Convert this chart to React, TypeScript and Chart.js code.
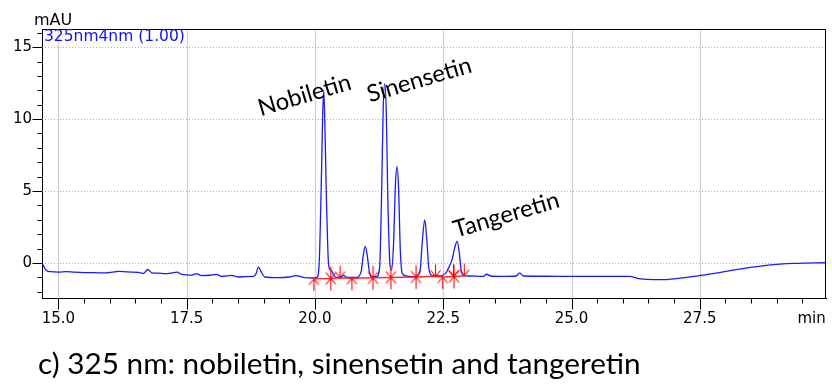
import React, { useEffect, useRef } from 'react';
import { Chart, registerables } from 'chart.js';

Chart.register(...registerables);

// ---- axis ranges & ticks ----
const X_MIN = 14.68;
const X_MAX = 29.96;
const Y_MIN = -2.43;
const Y_MAX = 16.26;

const X_MAJOR = [15, 17.5, 20, 22.5, 25, 27.5];
const X_LABELS = ['15.0', '17.5', '20.0', '22.5', '25.0', '27.5'];
const X_UNIT_POS = 29.68;
const X_UNIT_LABEL = 'min';
const X_MINOR_STEP = 0.5;

const Y_MAJOR = [0, 5, 10, 15];
const Y_LABELS = ['0', '5', '10', '15'];
const Y_MINOR_STEP = 1;

// ---- chromatogram (325nm4nm) ----
const TIME = [
  14.68, 14.71, 14.76, 14.85, 15.0, 15.15, 15.3, 15.5, 15.7, 15.92, 16.05, 16.18, 16.35, 16.56, 16.66,
  16.74, 16.82, 16.95, 17.08, 17.2, 17.31, 17.4, 17.6, 17.69, 17.79, 17.95, 18.08, 18.18, 18.37, 18.5,
  18.65, 18.8, 18.85, 18.9, 18.95, 19.02, 19.28, 19.5, 19.63, 19.8, 19.95, 20.04, 20.08, 20.12, 20.15,
  20.17, 20.19, 20.22, 20.26, 20.29, 20.32, 20.36, 20.42, 20.5, 20.56, 20.62, 20.8, 20.9, 20.94, 20.98,
  21.02, 21.06, 21.1, 21.2, 21.26, 21.3, 21.33, 21.36, 21.39, 21.42, 21.46, 21.49, 21.53, 21.57, 21.6,
  21.63, 21.66, 21.7, 21.78, 21.95, 22.05, 22.09, 22.14, 22.18, 22.22, 22.28, 22.4, 22.55, 22.62, 22.67,
  22.72, 22.77, 22.81, 22.85, 22.9, 23.0, 23.28, 23.35, 23.42, 23.67, 23.92, 23.99, 24.06, 24.5, 24.96,
  25.48, 26.13, 26.32, 26.71, 27.09, 27.48, 27.93, 28.39, 28.84, 29.35, 29.96,
];
const SIGNAL = [
  0.0, -0.2, -0.5, -0.6, -0.63, -0.6, -0.63, -0.66, -0.67, -0.69, -0.63, -0.58, -0.62, -0.65, -0.72,
  -0.45, -0.68, -0.7, -0.74, -0.7, -0.63, -0.79, -0.84, -0.74, -0.88, -0.85, -0.79, -0.93, -0.86, -0.97,
  -0.94, -0.93, -0.75, -0.28, -0.6, -0.97, -1.02, -0.97, -0.88, -1.02, -1.04, -1.0, -0.2, 5.0, 10.2,
  12.0, 10.2, 5.0, 0.2, -0.45, -0.5, -0.8, -1.0, -0.98, -0.86, -1.0, -1.0, -0.6, 0.5, 1.15,
  0.5, -0.6, -0.95, -0.95, -0.3, 5.0, 10.8, 12.45, 10.5, 4.5, 0.0, -0.5, 1.2, 5.6, 6.7,
  5.2, 1.2, -0.7, -0.9, -0.95, -0.5, 1.4, 3.0, 1.6, -0.4, -0.85, -0.9, -0.7, -0.2, 0.2,
  1.0, 1.5, 0.8, -0.5, -0.88, -0.9, -0.93, -0.78, -0.9, -0.93, -0.9, -0.69, -0.9, -0.92, -0.93,
  -0.93, -0.93, -1.09, -1.16, -1.06, -0.88, -0.63, -0.35, -0.14, -0.03, 0.02,
];

// ---- integration marks ----
const BASE_T = [19.98, 20.31, 20.49, 20.72, 21.13, 21.48, 21.97, 22.35, 22.49, 22.71, 22.91];
const BASE_V = [-1.1, -1.07, -1.02, -1.05, -1.03, -1.0, -0.97, -0.92, -0.97, -0.93, -0.88];
const UP_T = [19.98, 20.72, 22.49];
const UP_V = [-1.1, -1.05, -0.97];
const STAR_T = [20.31, 21.13, 21.48, 21.97, 22.71];
const STAR_V = [-1.07, -1.03, -1.0, -0.97, -0.93];
const DOWN_T = [20.49, 22.35, 22.7, 22.91];
const DOWN_V = [-1.02, -0.92, -0.93, -0.88];

// ---- texts ----
const Y_UNIT = 'mAU';
const TRACE_NAME = '325nm4nm (1.00)';
const PEAK_NAMES = ['Nobiletin', 'Sinensetin', 'Tangeretin'];
const CAPTION = 'c) 325 nm: nobiletin, sinensetin and tangeretin';

const TICK_FONT = 'DejaVu Sans';
const ANNOT_FONT = 'Lato';

const zip = (t: number[], v: number[]) => t.map((x, i) => ({ x, y: v[i] }));
const near = (a: number, b: number) => Math.abs(a - b) < 1e-6;

function makeMarker(kind: 'up' | 'down' | 'star'): HTMLCanvasElement {
  const c = document.createElement('canvas');
  c.width = 13;
  c.height = 27;
  const g = c.getContext('2d')!;
  g.strokeStyle = '#ff0000';
  g.lineWidth = 1.1;
  const cx = 6.5;
  const cy = 13.5;
  g.beginPath();
  if (kind === 'up' || kind === 'star') {
    g.moveTo(cx, cy); g.lineTo(cx, cy + 12);
    g.moveTo(cx, cy); g.lineTo(cx - 5, cy + 6);
    g.moveTo(cx, cy); g.lineTo(cx + 5, cy + 6);
  }
  if (kind === 'down' || kind === 'star') {
    g.moveTo(cx, cy); g.lineTo(cx, cy - 12);
    g.moveTo(cx, cy); g.lineTo(cx - 5, cy - 6);
    g.moveTo(cx, cy); g.lineTo(cx + 5, cy - 6);
  }
  g.stroke();
  return c;
}

const decor = {
  id: 'decor',
  beforeDatasetsDraw(chart: any) {
    const { ctx, chartArea: a, scales } = chart;
    const x = scales.x;
    const y = scales.y;
    ctx.save();
    ctx.beginPath();
    ctx.rect(a.left, a.top, a.right - a.left, a.bottom - a.top);
    ctx.clip();
    ctx.lineWidth = 1.3;
    ctx.strokeStyle = '#d2d2d2';
    X_MAJOR.forEach((v) => {
      const px = Math.round(x.getPixelForValue(v)) + 0.5;
      ctx.beginPath(); ctx.moveTo(px, a.top); ctx.lineTo(px, a.bottom); ctx.stroke();
    });
    ctx.lineWidth = 1;
    ctx.strokeStyle = '#b0b0b0';
    ctx.setLineDash([1, 2]);
    Y_MAJOR.forEach((v) => {
      const py = Math.round(y.getPixelForValue(v)) + 0.5;
      ctx.beginPath(); ctx.moveTo(a.left, py); ctx.lineTo(a.right, py); ctx.stroke();
    });
    ctx.restore();
  },
  afterDraw(chart: any) {
    const { ctx, chartArea: a, scales } = chart;
    const x = scales.x;
    const y = scales.y;
    ctx.save();
    ctx.strokeStyle = '#000';
    ctx.lineWidth = 1;
    // top & right frame
    const L = Math.round(a.left) + 0.5;
    const R = Math.round(a.right) - 0.5;
    const T = Math.round(a.top) + 0.5;
    const B = Math.round(a.bottom) + 0.5;
    ctx.beginPath();
    ctx.moveTo(L, T); ctx.lineTo(R, T); ctx.lineTo(R, B);
    ctx.stroke();
    // x tick marks
    for (let v = X_MAJOR[0]; v <= X_MAX + 1e-6; v += X_MINOR_STEP) {
      const major = X_MAJOR.some((m) => near(m, v));
      const px = Math.round(x.getPixelForValue(v)) + 0.5;
      ctx.beginPath(); ctx.moveTo(px, B); ctx.lineTo(px, B + (major ? 11 : 5)); ctx.stroke();
    }
    // y tick marks
    for (let v = Math.ceil(Y_MIN); v <= Y_MAX; v += Y_MINOR_STEP) {
      const major = Y_MAJOR.some((m) => near(m, v));
      const py = Math.round(y.getPixelForValue(v)) + 0.5;
      ctx.beginPath(); ctx.moveTo(L, py); ctx.lineTo(L - (major ? 10 : 5), py); ctx.stroke();
    }
    // unit label & trace name
    ctx.fillStyle = '#000';
    ctx.font = `16px "${TICK_FONT}"`;
    ctx.textAlign = 'left';
    ctx.textBaseline = 'alphabetic';
    ctx.fillText(Y_UNIT, 34, 25);
    ctx.fillStyle = '#1010ff';
    ctx.font = `15.5px "${TICK_FONT}"`;
    ctx.fillText(TRACE_NAME, 44, 41);

    // peak annotations (rotated)
    ctx.fillStyle = '#000';
    ctx.font = `100px "${ANNOT_FONT}"`;
    const annSize = (100 * 96) / ctx.measureText(PEAK_NAMES[0]).width;
    ctx.font = `${annSize}px "${ANNOT_FONT}"`;
    const anchors = [
      [x.getPixelForValue(20.17) - 63, y.getPixelForValue(10.2)],
      [x.getPixelForValue(21.36) - 15, y.getPixelForValue(11.15)],
      [x.getPixelForValue(22.77) - 1, y.getPixelForValue(1.75)],
    ];
    PEAK_NAMES.forEach((n, i) => {
      ctx.save();
      ctx.translate(anchors[i][0], anchors[i][1]);
      ctx.rotate((-16.5 * Math.PI) / 180);
      ctx.fillText(n, 0, 0);
      ctx.restore();
    });

    // caption
    ctx.font = `100px "${ANNOT_FONT}"`;
    const capSize = (100 * 603) / ctx.measureText(CAPTION).width;
    ctx.font = `${capSize}px "${ANNOT_FONT}"`;
    ctx.fillText(CAPTION, 38, 374);
    ctx.restore();
  },
};

export default function App() {
  const ref = useRef<HTMLCanvasElement>(null);

  useEffect(() => {
    const canvas = ref.current!;
    const upMark = makeMarker('up');
    const downMark = makeMarker('down');
    const starMark = makeMarker('star');

    const xTicks: number[] = [];
    for (let v = X_MAJOR[0]; v <= X_MAX + 1e-6; v += X_MINOR_STEP) xTicks.push(Math.round(v * 100) / 100);
    xTicks.push(X_UNIT_POS);
    const yTicks: number[] = [];
    for (let v = Math.ceil(Y_MIN); v <= Y_MAX; v += Y_MINOR_STEP) yTicks.push(v);

    const chart = new Chart(canvas, {
      type: 'line',
      data: {
        datasets: [
          {
            data: zip(BASE_T, BASE_V),
            borderColor: 'rgba(255,20,20,0.9)',
            borderWidth: 1.5,
            pointRadius: 0,
            tension: 0,
            order: 2,
          },
          {
            data: zip(TIME, SIGNAL),
            borderColor: '#1a1aff',
            borderWidth: 1.3,
            pointRadius: 0,
            cubicInterpolationMode: 'monotone',
            order: 3,
          },
          {
            data: zip(UP_T, UP_V),
            showLine: false,
            pointStyle: upMark as any,
            pointRadius: 5,
            order: 1,
          },
          {
            data: zip(DOWN_T, DOWN_V),
            showLine: false,
            pointStyle: downMark as any,
            pointRadius: 5,
            order: 1,
          },
          {
            data: zip(STAR_T, STAR_V),
            showLine: false,
            pointStyle: starMark as any,
            pointRadius: 5,
            order: 1,
          },
        ] as any,
      },
      options: {
        animation: false,
        responsive: false,
        maintainAspectRatio: false,
        devicePixelRatio: 1,
        events: [],
        layout: { padding: { left: 0, top: 29, right: 1, bottom: 57 } },
        plugins: { legend: { display: false }, tooltip: { enabled: false } },
        scales: {
          x: {
            type: 'linear',
            min: X_MIN,
            max: X_MAX,
            afterBuildTicks: (s: any) => {
              s.ticks = xTicks.map((value) => ({ value }));
            },
            afterFit: (s: any) => {
              s.height = 30;
              s.paddingLeft = 0;
              s.paddingRight = 0;
            },
            ticks: {
              autoSkip: false,
              maxRotation: 0,
              minRotation: 0,
              padding: 12,
              color: '#000',
              font: { family: TICK_FONT, size: 15 },
              callback: (value: any) => {
                const v = Number(value);
                if (near(v, X_UNIT_POS)) return X_UNIT_LABEL;
                const i = X_MAJOR.findIndex((m) => near(m, v));
                return i >= 0 ? X_LABELS[i] : '';
              },
            },
            grid: { drawOnChartArea: false, drawTicks: false },
            border: { display: true, color: '#000', width: 1 },
          },
          y: {
            type: 'linear',
            min: Y_MIN,
            max: Y_MAX,
            afterBuildTicks: (s: any) => {
              s.ticks = yTicks.map((value) => ({ value }));
            },
            afterFit: (s: any) => {
              s.width = 42;
              s.paddingTop = 0;
              s.paddingBottom = 0;
            },
            ticks: {
              autoSkip: false,
              padding: 10,
              color: '#000',
              font: { family: TICK_FONT, size: 15 },
              callback: (value: any) => {
                const i = Y_MAJOR.findIndex((m) => near(m, Number(value)));
                return i >= 0 ? Y_LABELS[i] : '';
              },
            },
            grid: { drawOnChartArea: false, drawTicks: false },
            border: { display: true, color: '#000', width: 1 },
          },
        },
      } as any,
      plugins: [decor],
    });
    return () => chart.destroy();
  }, []);

  return (
    <div style={{ position: 'absolute', left: 0, top: 0, width: 832, height: 385, background: '#fff' }}>
      <canvas ref={ref} width={832} height={385} style={{ display: 'block', width: 832, height: 385 }} />
    </div>
  );
}
